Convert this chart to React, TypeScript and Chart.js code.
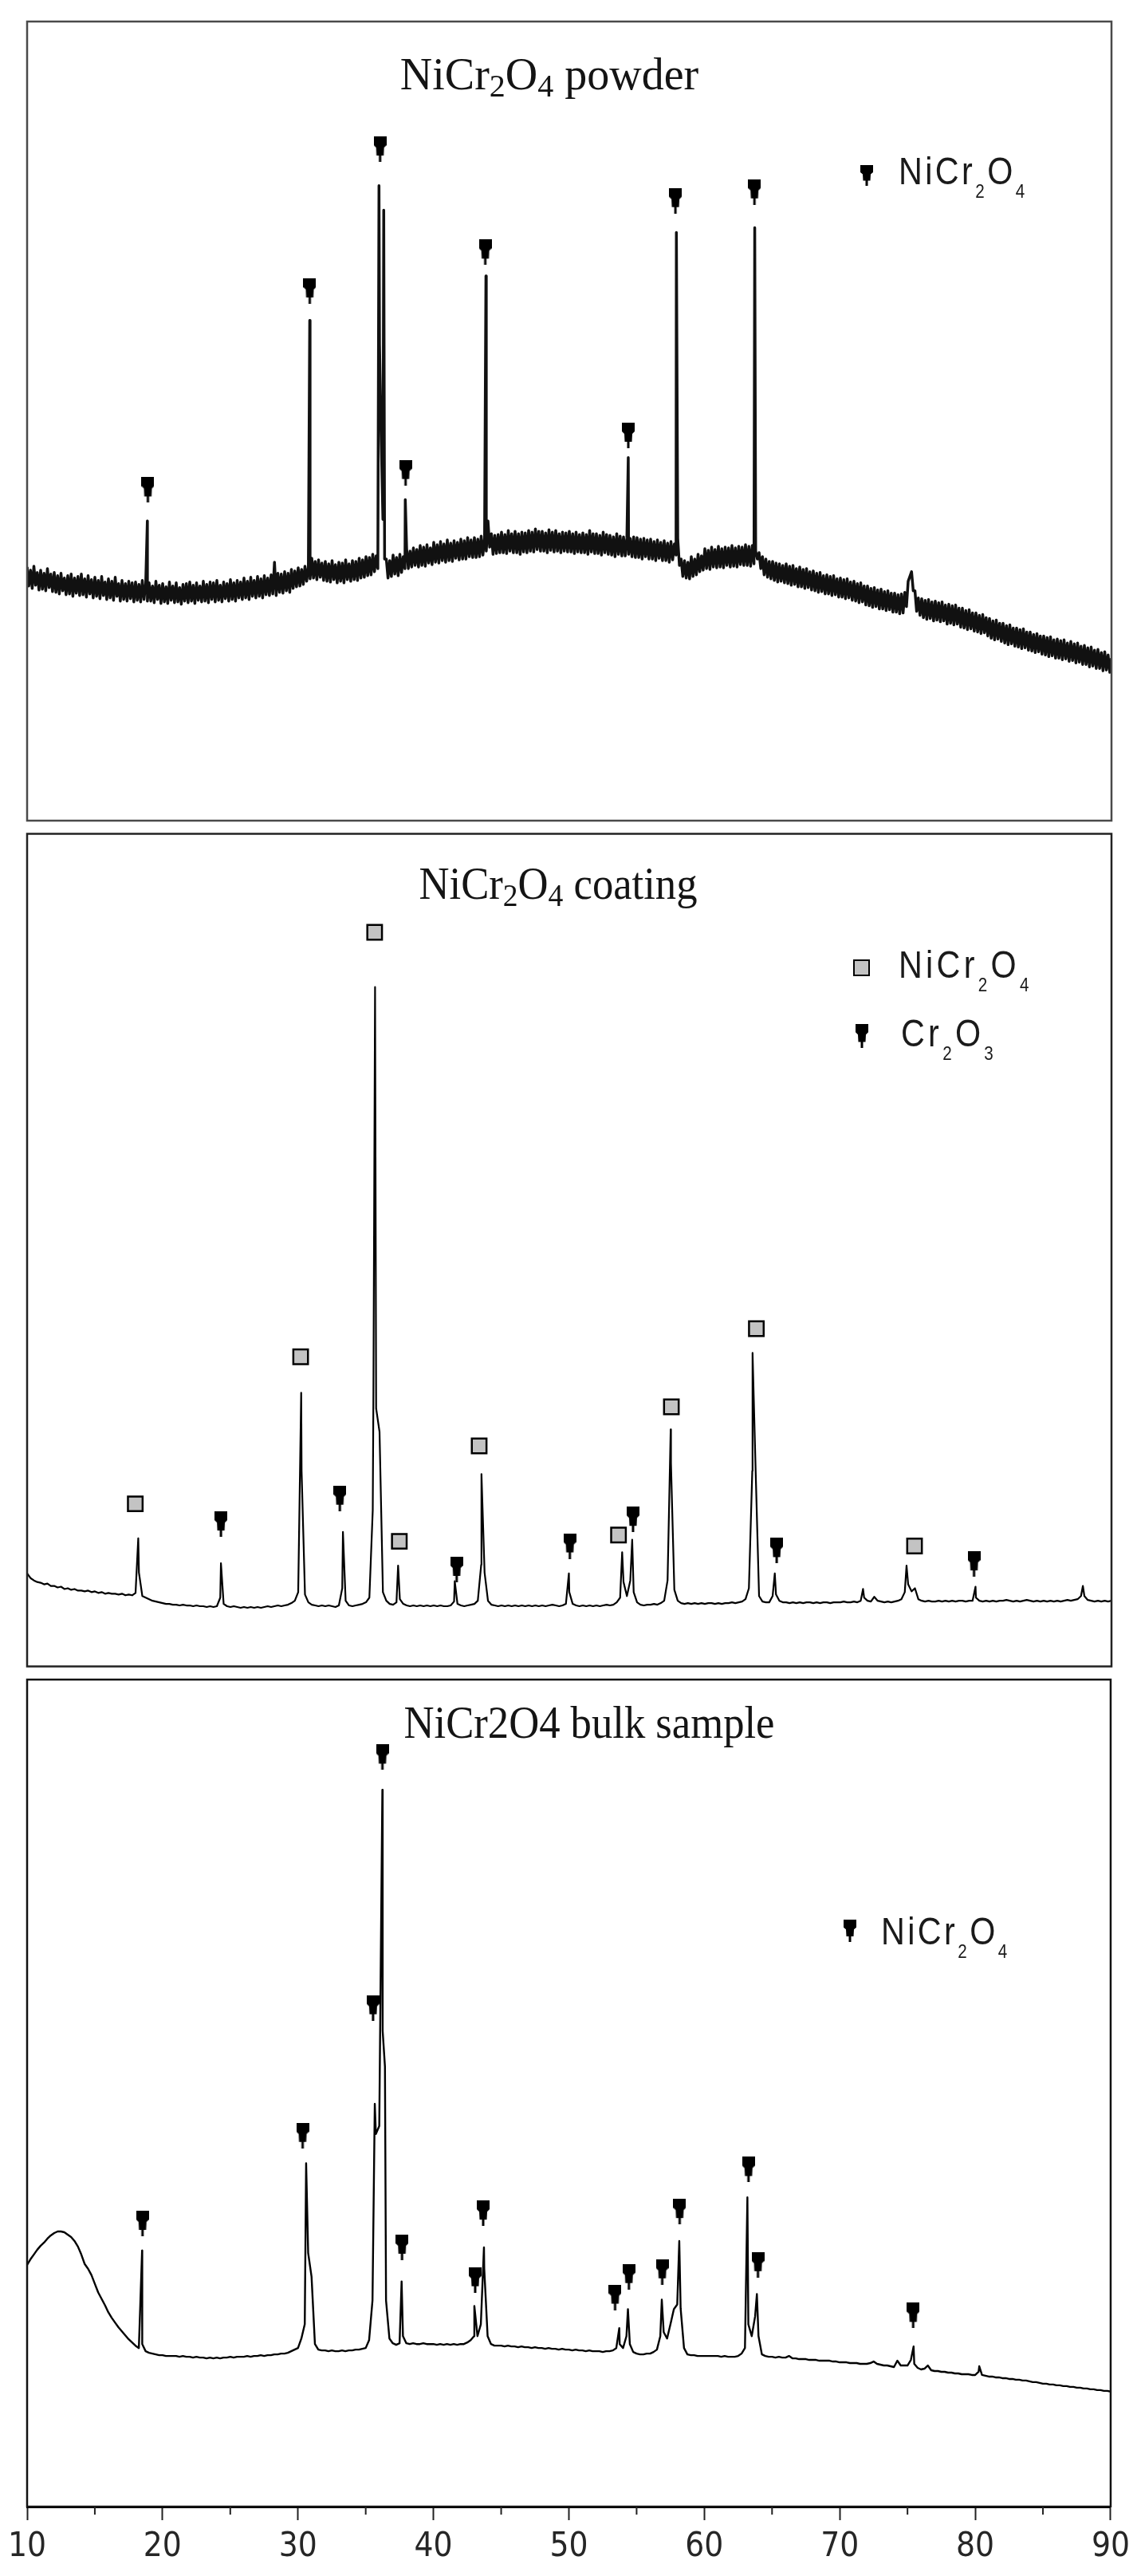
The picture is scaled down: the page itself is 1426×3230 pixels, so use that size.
import React, { useEffect, useRef } from 'react';
import { Chart, registerables } from 'chart.js';

Chart.register(...registerables);

// ---------- axis / grid ----------
const TWO_THETA_MIN = 10;
const TWO_THETA_MAX = 90;
const TWO_THETA_STEP = 0.25; // measurement grid of the sampled patterns
const POWDER_OFFSET_START = 10.125; // the interleaved powder samples
const MAJOR_STEP = 10;
const MINOR_TICKS = [15, 25, 35, 45, 55, 65, 75, 85];

// ---------- NiCr2O4 powder (noisy) ----------
// samples at 10.00, 10.25, ... (upper side of the noise band)
const powderCountsA = [
  320, 316, 321, 313, 316, 312, 318, 311, 313, 309, 312, 306, 309, 311, 306, 308,
  311, 305, 309, 304, 307, 303, 308, 301, 305, 302, 307, 299, 303, 299, 302, 300,
  301, 298, 303, 299, 300, 296, 302, 297, 299, 295, 301, 296, 300, 294, 298, 299,
  301, 297, 300, 296, 302, 298, 301, 300, 303, 297, 301, 299, 304, 300, 303, 301,
  306, 302, 307, 303, 308, 305, 309, 306, 310, 326, 312, 311, 314, 312, 317, 315,
  319, 317, 321, 320, 331, 327, 329, 325, 327, 324, 328, 323, 326, 325, 329, 324,
  328, 327, 331, 329, 333, 332, 336, 334, 600, 380, 330, 328, 335, 332, 336, 333,
  343, 340, 344, 342, 347, 345, 348, 344, 351, 348, 352, 349, 354, 350, 353, 351,
  355, 353, 357, 354, 357, 355, 359, 356, 378, 362, 360, 361, 364, 361, 366, 362,
  365, 362, 364, 363, 366, 364, 368, 365, 365, 363, 367, 364, 366, 362, 364, 363,
  365, 362, 364, 361, 363, 361, 366, 362, 362, 360, 364, 361, 360, 358, 362, 359,
  358, 357, 356, 358, 357, 355, 356, 354, 355, 352, 354, 351, 353, 350, 352, 349,
  356, 330, 328, 326, 333, 330, 336, 334, 343, 341, 345, 342, 346, 343, 345, 344,
  347, 344, 346, 345, 348, 346, 347, 340, 338, 333, 330, 327, 327, 325, 324, 322,
  324, 321, 322, 318, 320, 317, 318, 314, 315, 312, 313, 309, 310, 308, 309, 305,
  306, 304, 305, 301, 302, 299, 300, 296, 296, 293, 294, 291, 292, 289, 290, 287,
  287, 285, 286, 288, 302, 314, 290, 281, 280, 278, 279, 276, 277, 275, 276, 272,
  273, 271, 272, 268, 268, 265, 266, 262, 262, 259, 260, 256, 255, 252, 253, 249,
  249, 246, 247, 243, 243, 241, 242, 238, 238, 235, 236, 233, 233, 231, 232, 228,
  229, 227, 228, 224, 226, 223, 224, 220, 221, 218, 219, 215, 216, 212, 213, 209,
  205,
];
// samples at 10.125, 10.375, ... (lower side of the noise band)
const powderCountsB = [
  296, 293, 297, 291, 292, 290, 294, 289, 288, 286, 290, 285, 286, 283, 287, 284,
  285, 282, 286, 281, 283, 280, 284, 279, 281, 278, 283, 277, 279, 277, 280, 276,
  278, 276, 279, 277, 277, 275, 279, 274, 276, 274, 278, 275, 276, 273, 277, 275,
  277, 274, 278, 276, 277, 275, 279, 276, 278, 276, 280, 277, 279, 277, 281, 279,
  281, 279, 283, 281, 283, 281, 285, 284, 286, 284, 288, 287, 290, 288, 293, 295,
  296, 298, 302, 305, 306, 304, 307, 303, 302, 301, 304, 300, 302, 300, 304, 302,
  304, 303, 306, 307, 309, 310, 314, 318, 480, 330, 306, 308, 311, 309, 313, 318,
  318, 320, 322, 320, 322, 321, 325, 323, 326, 325, 328, 326, 328, 327, 331, 329,
  330, 330, 333, 332, 332, 333, 335, 340, 345, 336, 337, 338, 338, 337, 340, 338,
  338, 336, 339, 338, 340, 339, 342, 340, 340, 338, 341, 339, 340, 338, 340, 339,
  339, 337, 339, 338, 338, 336, 339, 337, 337, 335, 338, 336, 335, 333, 336, 334,
  334, 336, 333, 332, 332, 330, 333, 330, 330, 328, 331, 328, 328, 326, 329, 335,
  322, 308, 306, 305, 308, 310, 314, 316, 318, 317, 320, 319, 320, 319, 322, 320,
  321, 320, 323, 322, 322, 321, 324, 330, 318, 310, 307, 305, 303, 301, 302, 300,
  299, 297, 298, 295, 295, 293, 294, 291, 290, 288, 289, 286, 286, 284, 285, 282,
  282, 280, 281, 278, 277, 275, 276, 272, 271, 269, 270, 267, 267, 265, 266, 263,
  263, 261, 262, 270, 308, 290, 264, 259, 256, 254, 255, 252, 253, 251, 252, 248,
  249, 247, 248, 244, 243, 241, 242, 239, 238, 236, 237, 233, 230, 228, 229, 226,
  224, 222, 223, 220, 219, 217, 218, 215, 214, 212, 213, 210, 209, 207, 208, 205,
  205, 203, 204, 201, 202, 199, 200, 197, 197, 194, 195, 192, 192, 189, 190, 187,
];
const powderPeakTheta = [18.87, 30.85, 35.96, 36.31, 37.9, 43.85, 54.35, 57.9, 63.68];
const powderPeakCounts = [378, 631, 801, 770, 405, 687, 458, 742, 748];
const powderMarkTheta = [18.91, 30.85, 36.04, 37.92, 43.8, 54.35, 57.83, 63.66];
const powderMarkCounts = [417, 668, 847, 439, 717, 486, 782, 793];

// ---------- NiCr2O4 coating ----------
const coatingCounts = [
  119, 113, 110, 108, 107, 105, 106, 103, 103, 101, 102, 99, 100, 98, 99, 97,
  97, 96, 97, 95, 96, 94, 95, 93, 94, 93, 93, 92, 93, 91, 92, 91,
  94, 120, 90, 88, 86, 84, 83, 82, 81, 80, 80, 79, 79, 78, 79, 78,
  78, 77, 78, 77, 77, 76, 77, 76, 77, 88, 80, 77, 76, 77, 76, 75,
  76, 75, 76, 75, 76, 75, 76, 77, 76, 77, 78, 77, 78, 79, 81, 84,
  95, 250, 92, 82, 79, 78, 77, 78, 77, 78, 77, 76, 78, 100, 84, 78,
  77, 78, 79, 80, 82, 88, 200, 330, 300, 95, 84, 80, 79, 82, 86, 80,
  78, 77, 78, 77, 78, 77, 78, 77, 78, 77, 78, 77, 77, 78, 83, 80,
  78, 77, 78, 79, 80, 84, 130, 120, 84, 79, 78, 77, 78, 77, 78, 77,
  78, 77, 78, 77, 78, 77, 78, 77, 78, 77, 78, 79, 78, 77, 78, 80,
  95, 80, 78, 77, 78, 77, 78, 77, 78, 77, 78, 79, 78, 79, 82, 88,
  108, 90, 110, 95, 82, 79, 78, 79, 79, 80, 79, 81, 84, 110, 260, 98,
  84, 81, 80, 81, 80, 81, 80, 81, 80, 81, 81, 80, 81, 80, 81, 81,
  82, 81, 82, 83, 86, 100, 250, 249, 90, 83, 82, 82, 90, 92, 84, 82,
  82, 81, 82, 81, 82, 81, 82, 82, 81, 82, 81, 82, 82, 81, 82, 82,
  82, 83, 82, 82, 83, 82, 84, 88, 84, 83, 89, 84, 83, 82, 83, 82,
  83, 84, 86, 95, 105, 96, 100, 86, 84, 83, 84, 83, 83, 84, 83, 84,
  83, 84, 83, 84, 84, 83, 84, 84, 88, 84, 83, 84, 83, 84, 83, 84,
  84, 85, 84, 83, 84, 83, 84, 85, 84, 83, 84, 83, 84, 83, 84, 83,
  84, 83, 84, 85, 84, 85, 86, 90, 90, 85, 84, 83, 84, 83, 84, 83,
  84,
];
const coatingPeakTheta = [18.2, 24.3, 30.22, 33.3, 35.55, 35.67, 37.37, 41.55, 43.52, 49.97, 53.9, 54.64, 57.48, 63.52, 65.16, 71.67, 74.88, 79.97, 87.89];
const coatingPeakCounts = [164, 132, 350, 172, 353, 869, 129, 109, 246, 119, 146, 162, 303, 401, 119, 99, 129, 102, 103];
const coatingSpinelTheta = [17.98, 30.18, 35.64, 37.46, 43.35, 53.63, 57.53, 63.8, 75.47];
const coatingSpinelCounts = [208, 396, 939, 160, 282, 168, 332, 432, 154];
const coatingCr2O3Theta = [24.3, 33.07, 41.69, 50.04, 54.7, 65.3, 79.86];
const coatingCr2O3Counts = [182, 215, 124, 154, 188, 148, 131];

// ---------- NiCr2O4 bulk sample ----------
const bulkCounts = [
  305, 312, 318, 324, 329, 333, 338, 342, 345, 347, 347, 346, 343, 340, 335, 328,
  318, 306, 300, 292, 281, 270, 262, 254, 245, 238, 232, 226, 221, 216, 211, 207,
  203, 200, 205, 196, 194, 193, 192, 191, 191, 190, 190, 190, 190, 189, 190, 189,
  189, 188, 189, 188, 188, 187, 188, 187, 188, 187, 188, 188, 189, 188, 189, 189,
  189, 190, 189, 190, 190, 191, 190, 191, 191, 192, 192, 193, 193, 194, 196, 198,
  200, 212, 230, 320, 290, 205, 198, 197, 197, 196, 197, 196, 196, 197, 196, 197,
  197, 198, 198, 199, 200, 210, 260, 470, 480, 600, 260, 212, 206, 204, 206, 215,
  206, 205, 206, 205, 205, 206, 205, 205, 205, 204, 205, 204, 205, 204, 205, 204,
  205, 205, 207, 210, 215, 215, 230, 300, 215, 205, 203, 203, 203, 202, 203, 202,
  202, 201, 202, 201, 201, 200, 201, 200, 200, 199, 200, 199, 199, 198, 199, 198,
  198, 197, 198, 197, 197, 196, 197, 196, 196, 196, 195, 196, 196, 197, 200, 205,
  200, 215, 205, 195, 193, 192, 192, 193, 193, 195, 198, 215, 220, 212, 230, 249,
  255, 250, 200, 192, 191, 191, 190, 190, 190, 190, 190, 190, 190, 189, 190, 189,
  189, 189, 190, 193, 200, 230, 215, 240, 215, 192, 190, 189, 189, 188, 189, 188,
  188, 190, 187, 187, 186, 186, 186, 185, 185, 185, 184, 184, 184, 184, 183, 183,
  182, 182, 182, 181, 181, 181, 180, 180, 180, 181, 183, 180, 179, 178, 178, 177,
  176, 184, 178, 178, 178, 185, 180, 175, 173, 174, 178, 172, 171, 171, 170, 170,
  169, 169, 168, 168, 167, 167, 167, 166, 166, 170, 166, 165, 164, 164, 163, 163,
  162, 162, 161, 161, 160, 160, 159, 159, 158, 157, 157, 156, 155, 155, 154, 154,
  153, 153, 152, 152, 151, 151, 150, 150, 149, 149, 148, 148, 147, 147, 146, 146,
  145,
];
const bulkPeakTheta = [18.49, 30.6, 35.67, 36.23, 36.42, 37.65, 43.02, 43.73, 53.72, 54.36, 56.86, 58.15, 63.18, 63.88, 75.45, 80.3];
const bulkPeakCounts = [323, 433, 508, 904, 555, 284, 253, 327, 225, 249, 261, 335, 390, 268, 202, 177];
const bulkMarkTheta = [18.52, 30.34, 35.54, 36.23, 37.68, 43.08, 43.67, 53.41, 54.43, 56.89, 58.18, 63.26, 63.96, 75.42];
const bulkMarkCounts = [357, 468, 629, 945, 327, 286, 370, 264, 290, 296, 372, 425, 305, 241];

// ---------- helpers ----------
type Pt = { x: number; y: number };
type Grid = { start: number; values: number[] };

function buildPattern(grids: Grid[], peakTheta: number[], peakCounts: number[]): Pt[] {
  const pts: Pt[] = [];
  grids.forEach((g) => g.values.forEach((y, i) => pts.push({ x: g.start + i * TWO_THETA_STEP, y })));
  peakTheta.forEach((x, i) => pts.push({ x, y: peakCounts[i] }));
  pts.sort((a, b) => a.x - b.x);
  return pts;
}

function zipPts(xs: number[], ys: number[]): Pt[] {
  return xs.map((x, i) => ({ x, y: ys[i] }));
}

const PIN_POLY = '0,0 16,0 16,11 13,14 12.5,24 9.5,24 9.5,32 6.5,32 6.5,24 3.5,24 3,14 0,11';

function makePin(): HTMLCanvasElement {
  const c = document.createElement('canvas');
  c.width = 16;
  c.height = 32;
  const g = c.getContext('2d')!;
  g.fillStyle = '#000';
  g.beginPath();
  const pts = PIN_POLY.split(' ').map((p) => p.split(',').map(Number));
  pts.forEach(([x, y], i) => (i === 0 ? g.moveTo(x, y) : g.lineTo(x, y)));
  g.closePath();
  g.fill();
  return c;
}

const TICK_FONT = '"Liberation Sans Narrow", "Arial Narrow", "DejaVu Sans Condensed", sans-serif';

type MarkerSet = { points: Pt[]; kind: 'pin' | 'square' };

type PanelProps = {
  top: number;
  height: number;
  padTop: number;
  padBottom: number;
  pattern: Pt[];
  yMax: number;
  lineColor: string;
  lineWidth: number;
  frameColor: string;
  markers: MarkerSet[];
  axis: boolean;
};

function Panel(p: PanelProps) {
  const ref = useRef<HTMLCanvasElement>(null);
  useEffect(() => {
    const pin = makePin();
    const frame = {
      id: 'frame',
      afterDraw(chart: any) {
        const { ctx, chartArea: a } = chart;
        ctx.save();
        ctx.strokeStyle = p.frameColor;
        ctx.lineWidth = 2.5;
        ctx.strokeRect(a.left, a.top, a.right - a.left, a.bottom - a.top);
        if (p.axis) {
          const xs = chart.scales.x;
          ctx.strokeStyle = '#222';
          ctx.lineWidth = 2;
          MINOR_TICKS.forEach((v) => {
            const px = xs.getPixelForValue(v);
            ctx.beginPath();
            ctx.moveTo(px, a.bottom);
            ctx.lineTo(px, a.bottom + 10);
            ctx.stroke();
          });
        }
        ctx.restore();
      },
    };
    const markerSets = p.markers.map((m) =>
      m.kind === 'pin'
        ? {
            data: m.points,
            showLine: false,
            pointStyle: pin,
            pointRadius: 10,
            order: 0,
          }
        : {
            data: m.points,
            showLine: false,
            pointStyle: 'rect',
            pointRadius: 13,
            pointBackgroundColor: '#c3c3c3',
            pointBorderColor: '#000',
            pointBorderWidth: 2.5,
            order: 0,
          }
    );
    const xScale: any = p.axis
      ? {
          type: 'linear',
          min: TWO_THETA_MIN,
          max: TWO_THETA_MAX,
          position: 'bottom',
          afterFit: (s: any) => {
            s.height = 80;
          },
          border: { display: true, color: '#000', width: 3 },
          grid: {
            display: true,
            drawOnChartArea: false,
            drawTicks: true,
            tickLength: 17,
            tickWidth: 2,
            tickColor: '#222',
          },
          ticks: {
            stepSize: MAJOR_STEP,
            autoSkip: false,
            maxRotation: 0,
            minRotation: 0,
            padding: 9,
            color: '#262626',
            font: { family: TICK_FONT, size: 42 },
          },
        }
      : { type: 'linear', min: TWO_THETA_MIN, max: TWO_THETA_MAX, display: false };
    const chart = new Chart(ref.current!, {
      type: 'line',
      data: {
        datasets: [
          {
            data: p.pattern,
            borderColor: p.lineColor,
            borderWidth: p.lineWidth,
            borderJoinStyle: 'round',
            pointRadius: 0,
            tension: 0,
            fill: false,
            order: 1,
          } as any,
          ...(markerSets as any[]),
        ],
      },
      options: {
        animation: false,
        responsive: false,
        devicePixelRatio: 1,
        events: [],
        layout: { padding: { top: p.padTop, bottom: p.padBottom, left: 34, right: 32 } },
        plugins: { legend: { display: false }, tooltip: { enabled: false }, title: { display: false } },
        scales: {
          x: xScale,
          y: { type: 'linear', min: 0, max: p.yMax, display: false },
        },
      },
      plugins: [frame],
    });
    return () => chart.destroy();
  }, []);
  return (
    <canvas
      ref={ref}
      width={1426}
      height={p.height}
      style={{ position: 'absolute', left: 0, top: p.top, width: 1426, height: p.height }}
    />
  );
}

const serif = '"Liberation Serif", "Times New Roman", serif';
const sans = '"Liberation Sans", Arial, sans-serif';

function Title({ cx, baseline, scale, children }: any) {
  return (
    <div
      style={{
        position: 'absolute',
        left: cx,
        top: baseline - 0.8375 * 56,
        fontFamily: serif,
        fontSize: 56,
        lineHeight: '56px',
        color: '#141414',
        whiteSpace: 'nowrap',
        transform: `translateX(-50%) scaleX(${scale})`,
      }}
    >
      {children}
    </div>
  );
}

function TSub({ children }: any) {
  return <span style={{ fontSize: 40, position: 'relative', top: 9, lineHeight: 0 }}>{children}</span>;
}

function LSub({ children }: any) {
  return <span style={{ fontSize: 24, position: 'relative', top: 17, lineHeight: 0 }}>{children}</span>;
}

function LegendText({ left, baseline, spacing, children }: any) {
  return (
    <div
      style={{
        position: 'absolute',
        left,
        top: baseline - 0.8465 * 48,
        fontFamily: sans,
        fontSize: 48,
        lineHeight: '48px',
        color: '#1a1a1a',
        whiteSpace: 'nowrap',
        letterSpacing: spacing,
        transform: 'scaleX(0.86)',
        transformOrigin: 'left top',
      }}
    >
      {children}
    </div>
  );
}

function PinIcon({ left, top, h }: any) {
  return (
    <svg
      width={16}
      height={h}
      viewBox="0 0 16 32"
      preserveAspectRatio="none"
      style={{ position: 'absolute', left, top }}
    >
      <polygon points={PIN_POLY} fill="#000" />
    </svg>
  );
}

export default function App() {
  const powder = buildPattern(
    [
      { start: TWO_THETA_MIN, values: powderCountsA },
      { start: POWDER_OFFSET_START, values: powderCountsB },
    ],
    powderPeakTheta,
    powderPeakCounts
  );
  const coating = buildPattern([{ start: TWO_THETA_MIN, values: coatingCounts }], coatingPeakTheta, coatingPeakCounts);
  const bulk = buildPattern([{ start: TWO_THETA_MIN, values: bulkCounts }], bulkPeakTheta, bulkPeakCounts);
  return (
    <div
      style={{
        position: 'absolute',
        left: 0,
        top: 0,
        width: 1426,
        height: 3230,
        background: '#fff',
        overflow: 'hidden',
      }}
    >
      <Panel
        top={0}
        height={1040}
        padTop={27}
        padBottom={5}
        pattern={powder}
        yMax={1008}
        lineColor="#111"
        lineWidth={3.5}
        frameColor="#4a4a4a"
        markers={[{ points: zipPts(powderMarkTheta, powderMarkCounts), kind: 'pin' }]}
        axis={false}
      />
      <Panel
        top={1030}
        height={1075}
        padTop={5}
        padBottom={5}
        pattern={coating}
        yMax={1065}
        lineColor="#000"
        lineWidth={2.2}
        frameColor="#222"
        markers={[
          { points: zipPts(coatingSpinelTheta, coatingSpinelCounts), kind: 'square' },
          { points: zipPts(coatingCr2O3Theta, coatingCr2O3Counts), kind: 'pin' },
        ]}
        axis={false}
      />
      <Panel
        top={2095}
        height={1135}
        padTop={5}
        padBottom={7}
        pattern={bulk}
        yMax={1043}
        lineColor="#000"
        lineWidth={2.4}
        frameColor="#111"
        markers={[{ points: zipPts(bulkMarkTheta, bulkMarkCounts), kind: 'pin' }]}
        axis={true}
      />

      <Title cx={689} baseline={112} scale={1}>
        NiCr<TSub>2</TSub>O<TSub>4</TSub> powder
      </Title>
      <Title cx={700} baseline={1127} scale={0.94}>
        NiCr<TSub>2</TSub>O<TSub>4</TSub> coating
      </Title>
      <Title cx={739} baseline={2179} scale={0.94}>
        NiCr2O4 bulk sample
      </Title>

      <PinIcon left={1079} top={207} h={26} />
      <LegendText left={1127} baseline={232} spacing={4}>
        NiCr<LSub>2</LSub>O<LSub>4</LSub>
      </LegendText>

      <div
        style={{
          position: 'absolute',
          left: 1070,
          top: 1203,
          width: 21,
          height: 21,
          boxSizing: 'border-box',
          border: '2.5px solid #000',
          background: '#c3c3c3',
        }}
      />
      <LegendText left={1127} baseline={1227} spacing={5}>
        NiCr<LSub>2</LSub>O<LSub>4</LSub>
      </LegendText>
      <PinIcon left={1073} top={1284} h={30} />
      <LegendText left={1130} baseline={1313} spacing={5}>
        Cr<LSub>2</LSub>O<LSub>3</LSub>
      </LegendText>

      <PinIcon left={1058} top={2407} h={28} />
      <LegendText left={1105} baseline={2439} spacing={4}>
        NiCr<LSub>2</LSub>O<LSub>4</LSub>
      </LegendText>
    </div>
  );
}
